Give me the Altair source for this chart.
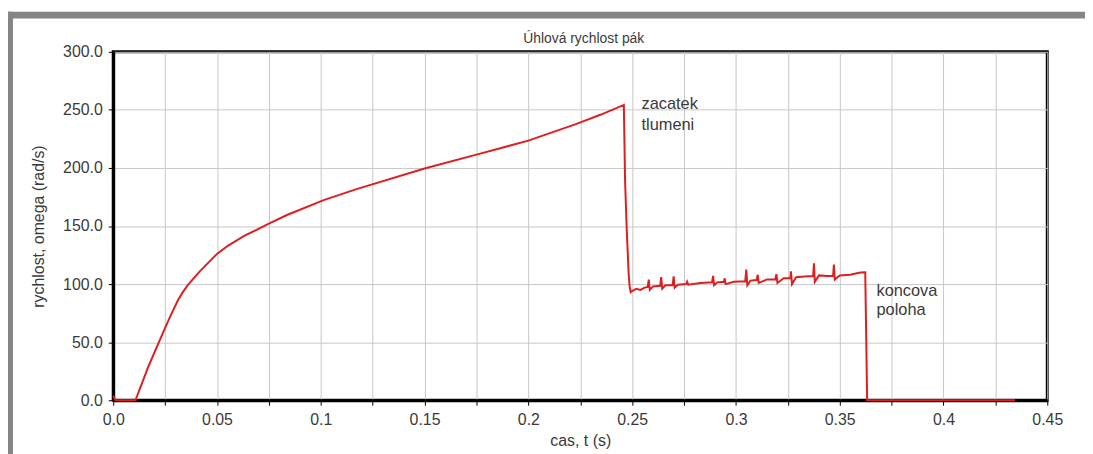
import altair as alt
import pandas as pd

# ---- data ----
t_values = [
    0.0, 0.001, 0.0107, 0.0171, 0.0226, 0.025, 0.0282, 0.0313, 0.0337, 0.0361,
    0.0417, 0.05, 0.0552, 0.0631, 0.075, 0.0837, 0.1017, 0.1176, 0.15, 0.175,
    0.2, 0.2229, 0.235,
    0.246, 0.2466, 0.2474, 0.2483, 0.2488, 0.2493,
    0.2500, 0.2520, 0.2540, 0.2560, 0.2575, 0.2580, 0.2585, 0.2600, 0.2635,
    0.2640, 0.2645, 0.2660, 0.2695, 0.2700, 0.2705, 0.2720, 0.2760, 0.2765,
    0.2770, 0.2830, 0.2885, 0.2890, 0.2895, 0.2910, 0.2942, 0.2946, 0.2950,
    0.2990, 0.3045, 0.3050, 0.3055, 0.3070, 0.3100, 0.3105, 0.3110, 0.3150,
    0.3190, 0.3195, 0.3200, 0.3230, 0.3262, 0.3265, 0.3270, 0.3290, 0.3330,
    0.3372, 0.3376, 0.3380, 0.3400, 0.3440, 0.3468, 0.3472, 0.3476, 0.3500,
    0.3550, 0.3600, 0.3623, 0.3628, 0.3632, 0.4345,
]
omega_values = [
    4, 0, 0, 29.7, 52.4, 62.3, 75, 86.5, 93.5, 99.5,
    111, 126, 133, 141.5, 152, 159.5, 172.5, 182, 199.6, 211.5,
    223.5, 237.8, 246,
    254.3, 189, 146.7, 109.7, 98, 93,
    94, 96, 95, 97, 97.5, 103.9, 95, 98, 98.5,
    106, 96, 99, 99, 106.6, 97, 99.5, 100, 102,
    99.5, 101, 101.5, 107, 99, 101.5, 102, 105, 100,
    102, 102.5, 112.5, 99, 103, 103.5, 108, 101, 104,
    104, 108.5, 101, 105, 105, 111, 100, 106, 106.5,
    107, 118, 102, 107.5, 107, 107, 116.8, 104, 107.5,
    108, 110, 110.2, 50, 0, 0,
]

note_t = [0.2545, 0.2545, 0.3677, 0.3677]
note_v = [255.0, 237.0, 93.7, 77.5]
note_text = ["zacatek", "tlumeni", "koncova", "poloha"]

chart_title = "Úhlová rychlost pák"

x_ticks = [round(i * 0.025, 3) for i in range(19)]
y_ticks = [i * 25 for i in range(13)]

FONT = "Liberation Sans"
RED = "#dd1f1f"
TXT = "#3a3a3a"

df = pd.DataFrame({"t": t_values, "omega": omega_values})
notes = pd.DataFrame({"t": note_t, "omega": note_v, "label": note_text})

x_scale = alt.Scale(domain=[0, 0.45], nice=False, zero=False)
y_scale = alt.Scale(domain=[0, 300], nice=False)

x_axis = alt.Axis(
    values=x_ticks,
    labelExpr="round(datum.value*40) % 2 == 0 ? (datum.value == 0 ? '0.0' : format(datum.value, '~g')) : ''",
    title="cas, t (s)",
    labelOverlap=False,
    labelFlush=False,
    labelPadding=6,
    titlePadding=6,
)
y_axis = alt.Axis(
    values=y_ticks,
    labelExpr="datum.value % 50 == 0 ? format(datum.value, '.1f') : ''",
    title="rychlost, omega (rad/s)",
    labelOverlap=False,
    labelFlush=False,
    labelPadding=6,
    titlePadding=16,
)

line = alt.Chart(df).mark_line(color=RED, strokeWidth=2).encode(
    x=alt.X("t:Q", scale=x_scale, axis=x_axis),
    y=alt.Y("omega:Q", scale=y_scale, axis=y_axis),
)

text = alt.Chart(notes).mark_text(
    align="left", baseline="middle", font=FONT, fontSize=16.5, color=TXT
).encode(
    x=alt.X("t:Q", scale=x_scale),
    y=alt.Y("omega:Q", scale=y_scale),
    text="label:N",
)

title_mark = alt.Chart(pd.DataFrame({"title": [chart_title]})).mark_text(
    align="center", baseline="alphabetic", font=FONT, fontSize=14, color=TXT
).encode(
    x=alt.value(474),
    y=alt.value(-9),
    text="title:N",
)

# decorative gray frame of the original screenshot
frame_left = alt.Chart(pd.DataFrame({"a": [0]})).mark_rect(color="#858585").encode(
    x=alt.value(-107), x2=alt.value(-101), y=alt.value(-40.5), y2=alt.value(420)
)
frame_top = alt.Chart(pd.DataFrame({"a": [0]})).mark_rect(color="#858585").encode(
    x=alt.value(-107), x2=alt.value(990), y=alt.value(-40.5), y2=alt.value(-33.5)
)

chart = (
    alt.layer(frame_left, frame_top, line, text, title_mark)
    .properties(
        width=941,
        height=351,
        background="white",
        autosize=alt.AutoSizeParams(type="none"),
        padding={"left": 106, "top": 42.5, "right": 38, "bottom": 52},
    )
    .configure_view(stroke="black", strokeWidth=3)
    .configure_axis(
        domainColor="black",
        domainWidth=3,
        tickColor="black",
        tickSize=5,
        tickWidth=1,
        gridColor="#c8c8c8",
        gridWidth=1,
        labelFont=FONT,
        labelFontSize=16,
        labelColor=TXT,
        titleFont=FONT,
        titleFontSize=16,
        titleFontWeight="normal",
        titleColor=TXT,
    )
)

chart.save("out.html", embed_options={"renderer": "svg", "actions": False})
